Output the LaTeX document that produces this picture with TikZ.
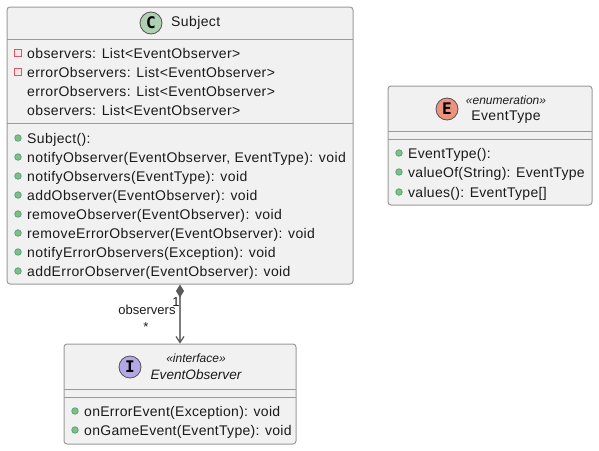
\documentclass[tikz,border=0pt]{standalone}
\usepackage{fontspec}
\setmainfont{Liberation Sans}
\newfontfamily\spotfont{DejaVu Sans Mono}
\newfontfamily\memberfont[LetterSpace=2.8]{Liberation Sans}
\newfontfamily\tightfont[LetterSpace=2.1]{Liberation Sans}
\usetikzlibrary{arrows.meta}

\definecolor{borderColour}{HTML}{9A9A9A}
\definecolor{fillColour}{HTML}{F1F1F1}
\definecolor{linkColour}{HTML}{7C7C7C}
\definecolor{tipColour}{HTML}{5A5A5A}
\definecolor{textColour}{HTML}{1A1A1A}
\definecolor{classColour}{HTML}{ADD1B2}
\definecolor{enumColour}{HTML}{EB937F}
\definecolor{ifaceColour}{HTML}{B4A7E5}
\definecolor{publicColour}{HTML}{84BE84}
\definecolor{publicBorder}{HTML}{038048}
\definecolor{privateColour}{HTML}{E05565}

\tikzset{
    classbox/.style={draw=borderColour, fill=fillColour, line width=1pt, rounded corners=3pt, inner sep=0pt},
    divider/.style={draw=borderColour, line width=1pt},
    member/.style={anchor=base west, inner sep=0pt, text=textColour, font=\fontsize{14}{16}\memberfont},
    title/.style={inner sep=0pt, text=textColour, font=\fontsize{14}{16}\memberfont},
    stereo/.style={inner sep=0pt, text=textColour, font=\fontsize{12}{14}\selectfont\itshape},
    spot/.style={circle, draw=textColour!75, line width=0.8pt, minimum size=22pt, inner sep=0pt, text=black, font=\fontsize{16}{18}\spotfont\bfseries},
    publicdot/.style={circle, draw=publicBorder!70, fill=publicColour, line width=0.8pt, minimum size=6.5pt, inner sep=0pt},
    privatebox/.style={rectangle, draw=privateColour, fill=privateColour!15, line width=1.1pt, minimum size=6.5pt, inner sep=0pt},
    linklabel/.style={inner sep=0pt, text=textColour, font=\fontsize{13}{15}\selectfont},
}

\begin{document}
\begin{tikzpicture}[x=1pt, y=-1pt]
    \useasboundingbox (0,0) rectangle (599,450);

    % Class boxes
    \node[classbox, minimum width=346pt, minimum height=277pt] (subject) at (180,145.5) {};
    \node[classbox, minimum width=204pt, minimum height=119pt] (eventType) at (490,145.5) {};
    \node[classbox, minimum width=232pt, minimum height=100pt] (eventObserver) at (180,394) {};

    % Compartment lines
    \draw[divider] (7,39) -- (353,39);
    \draw[divider] (7,123) -- (353,123);
    \draw[divider] (388,131) -- (592,131);
    \draw[divider] (388,139) -- (592,139);
    \draw[divider] (64,389) -- (296,389);
    \draw[divider] (64,397) -- (296,397);

    % Subject header
    \node[spot, fill=classColour] (subjectSpot) at (151,23) {C};
    \node[title, anchor=west] (subjectName) at (171,23) {Subject};

    % Subject fields
    \foreach \y/\txt [count=\i] in {58/observers: List<EventObserver>, 77/errorObservers: List<EventObserver>, 96/errorObservers: List<EventObserver>, 115/observers: List<EventObserver>}
        \node[member] (subjectField\i) at (27,\y) {\txt};
    \node[privatebox] (subjectPrivateA) at (18,53) {};
    \node[privatebox] (subjectPrivateB) at (18,72) {};

    % Subject methods
    \foreach \y/\txt [count=\i] in {138/Subject():, 157/{notifyObserver(EventObserver, EventType): void}, 176/notifyObservers(EventType): void, 195/addObserver(EventObserver): void, 214/removeObserver(EventObserver): void, 233/removeErrorObserver(EventObserver): void, 252/notifyErrorObservers(Exception): void, 271/addErrorObserver(EventObserver): void} {
        \node[publicdot] (subjectDot\i) at (18,\y) {};
        \node[member] (subjectMethod\i) at (27,\y+5) {\txt};
    }

    % EventType
    \node[spot, fill=enumColour] (eventTypeSpot) at (447,109) {E};
    \node[stereo] (eventTypeStereo) at (506,100) {«enumeration»};
    \node[title] (eventTypeName) at (506,117) {EventType};
    \foreach \y/\txt [count=\i] in {153/EventType():, 172/valueOf(String): EventType, 192/values(): EventType[]} {
        \node[publicdot] (eventTypeDot\i) at (399,\y) {};
        \node[member, font=\fontsize{14}{16}\tightfont] (eventTypeMethod\i) at (408,\y+5) {\txt};
    }

    % EventObserver
    \node[spot, fill=ifaceColour] (eventObserverSpot) at (130,367) {I};
    \node[stereo] (eventObserverStereo) at (196,358) {«interface»};
    \node[title, font=\fontsize{13.6}{16}\selectfont\itshape] (eventObserverName) at (196,375) {EventObserver};
    \foreach \y/\txt [count=\i] in {411/onErrorEvent(Exception): void, 430/onGameEvent(EventType): void} {
        \node[publicdot] (eventObserverDot\i) at (75,\y) {};
        \node[member, font=\fontsize{14}{16}\tightfont] (eventObserverMethod\i) at (84,\y+5) {\txt};
    }

    % Composition link
    \draw[draw=linkColour, line width=1.2pt, {Diamond[length=13pt, width=8pt, color=tipColour, fill=tipColour]}-{Straight Barb[length=6pt, width=8pt, color=tipColour]}] (subject.south) -- (eventObserver.north);
    \node[linklabel] (linkOne) at (176,302) {1};
    \node[linklabel] (linkName) at (147,310) {observers};
    \node[linklabel] (linkMany) at (146,327) {*};

\end{tikzpicture}
\end{document}
